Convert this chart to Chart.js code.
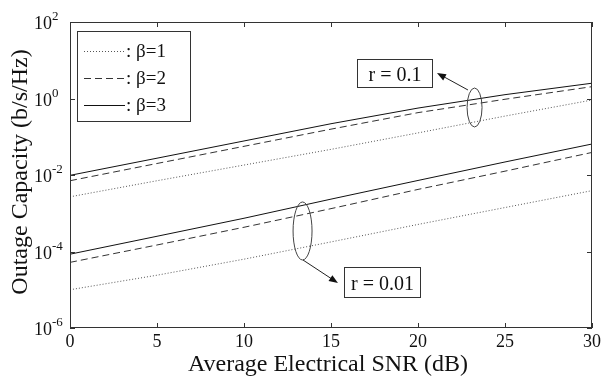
<!DOCTYPE html>
<html>
<head>
<meta charset="utf-8">
<script src="https://cdn.jsdelivr.net/npm/chart.js@4/dist/chart.umd.min.js"></script>
<style>
  html, body { margin: 0; padding: 0; background: #fff; }
  canvas { display: block; }
</style>
</head>
<body>
<canvas id="grafico" width="603" height="376"></canvas>
<script>
// SNR points (dB)
var snr = [0, 5, 10, 15, 20, 25, 30];

// outage capacity (b/s/Hz), r = 0.1
var r01_b1 = [0.00269, 0.00708, 0.0182, 0.0468, 0.126, 0.347, 0.912];
var r01_b2 = [0.00708, 0.0200, 0.0562, 0.158, 0.427, 0.955, 2.04];
var r01_b3 = [0.0098, 0.0275, 0.0776, 0.219, 0.562, 1.26, 2.51];

// outage capacity (b/s/Hz), r = 0.01
var r001_b1 = [1.0e-5, 2.4e-5, 6.3e-5, 1.78e-4, 5.1e-4, 1.41e-3, 3.9e-3];
var r001_b2 = [5.2e-5, 1.48e-4, 4.3e-4, 1.32e-3, 4.2e-3, 0.0126, 0.0389];
var r001_b3 = [8.5e-5, 2.5e-4, 7.4e-4, 2.34e-3, 7.2e-3, 0.0219, 0.0646];

var xTicks = [0, 5, 10, 15, 20, 25, 30];
var yTickExps = [2, 0, -2, -4, -6];
var legendLabels = [': \u03b2=1', ': \u03b2=2', ': \u03b2=3'];

var serif = '"Liberation Serif", "Times New Roman", serif';

var styles = [
  { borderColor: '#555', borderDash: [1, 2] },
  { borderColor: '#333', borderDash: [7, 4] },
  { borderColor: '#111', borderDash: [] }
];

function pontos(arr) {
  return snr.map(function(x, i) { return { x: x, y: arr[i] }; });
}

function ds(label, arr, st) {
  return {
    label: label,
    data: pontos(arr),
    borderColor: st.borderColor,
    borderDash: st.borderDash,
    borderWidth: 1,
    pointRadius: 0,
    tension: 0,
    fill: false
  };
}

var marcas = {
  id: 'marcas',
  beforeDraw: function(chart) {
    var c = chart.ctx;
    c.save();
    c.fillStyle = '#fff';
    c.fillRect(0, 0, chart.width, chart.height);
    c.restore();
  },
  afterDraw: function(chart) {
    var c = chart.ctx, a = chart.chartArea;
    var sx = chart.scales.x, sy = chart.scales.y;
    c.save();
    c.strokeStyle = '#333';
    c.lineWidth = 1;
    c.setLineDash([]);
    c.strokeRect(a.left + 0.5, a.top + 0.5, a.right - a.left - 1, a.bottom - a.top - 1);

    // tick marks, inward
    c.beginPath();
    xTicks.forEach(function(t) {
      var px = Math.round(sx.getPixelForValue(t)) + 0.5;
      c.moveTo(px, a.bottom); c.lineTo(px, a.bottom - 5);
      c.moveTo(px, a.top); c.lineTo(px, a.top + 5);
    });
    yTickExps.forEach(function(e) {
      var py = Math.round(sy.getPixelForValue(Math.pow(10, e))) + 0.5;
      c.moveTo(a.left, py); c.lineTo(a.left + 5, py);
      c.moveTo(a.right, py); c.lineTo(a.right - 5, py);
    });
    c.stroke();

    // tick labels
    c.fillStyle = '#111';
    c.font = '18px ' + serif;
    c.textAlign = 'center';
    c.textBaseline = 'alphabetic';
    xTicks.forEach(function(t) {
      c.fillText(String(t), sx.getPixelForValue(t), a.bottom + 19);
    });
    yTickExps.forEach(function(e) {
      var py = sy.getPixelForValue(Math.pow(10, e));
      c.font = '18px ' + serif;
      c.textAlign = 'right';
      c.fillText('10', a.left - 18, py + 7);
      c.font = '13px ' + serif;
      c.textAlign = 'left';
      c.fillText(e < 0 ? '-' + (-e) : String(e), a.left - 18, py - 2);
    });

    // axis titles
    c.font = '24px ' + serif;
    c.textAlign = 'center';
    c.fillText('Average Electrical SNR (dB)', 328, 371);
    c.save();
    c.translate(27, 172);
    c.rotate(-Math.PI / 2);
    c.fillText('Outage Capacity (b/s/Hz)', 0, 0);
    c.restore();

    // legend box
    c.strokeStyle = '#333';
    c.strokeRect(77.5, 31.5, 113, 90);
    c.font = '19px ' + serif;
    c.textAlign = 'left';
    [51, 78, 105].forEach(function(yy, i) {
      c.save();
      c.strokeStyle = styles[i].borderColor;
      c.setLineDash(styles[i].borderDash);
      c.beginPath();
      c.moveTo(84, yy + 0.5); c.lineTo(125, yy + 0.5);
      c.stroke();
      c.restore();
      c.fillText(legendLabels[i], 126, yy + 6);
    });

    // annotations: ellipse, arrow, labelled box (data coordinates)
    var notas = [
      { ell: [22.82, 23.68, 1.88, 0.18], from: [22.87, 1.67], to: [21.09, 4.64],
        box: [16.49, 20.80, 10.8, 2.0], text: 'r = 0.1' },
      { ell: [12.82, 13.91, 1.97e-3, 6.0e-5], from: [13.39, 6.0e-5], to: [15.40, 1.5e-5],
        box: [15.75, 20.11, 3.9e-5, 6.5e-6], text: 'r = 0.01' }
    ];
    notas.forEach(function(n) {
      var x0 = sx.getPixelForValue(n.ell[0]), x1 = sx.getPixelForValue(n.ell[1]);
      var y0 = sy.getPixelForValue(n.ell[2]), y1 = sy.getPixelForValue(n.ell[3]);
      c.strokeStyle = '#444';
      c.beginPath();
      c.ellipse((x0 + x1) / 2, (y0 + y1) / 2, (x1 - x0) / 2, (y1 - y0) / 2, 0, 0, Math.PI * 2);
      c.stroke();

      var fx = sx.getPixelForValue(n.from[0]), fy = sy.getPixelForValue(n.from[1]);
      var tx = sx.getPixelForValue(n.to[0]), ty = sy.getPixelForValue(n.to[1]);
      var ang = Math.atan2(ty - fy, tx - fx);
      c.strokeStyle = '#222';
      c.beginPath();
      c.moveTo(fx, fy); c.lineTo(tx - 6 * Math.cos(ang), ty - 6 * Math.sin(ang));
      c.stroke();
      c.fillStyle = '#111';
      c.beginPath();
      c.moveTo(tx, ty);
      c.lineTo(tx - 9 * Math.cos(ang) + 3.5 * Math.sin(ang), ty - 9 * Math.sin(ang) - 3.5 * Math.cos(ang));
      c.lineTo(tx - 9 * Math.cos(ang) - 3.5 * Math.sin(ang), ty - 9 * Math.sin(ang) + 3.5 * Math.cos(ang));
      c.closePath();
      c.fill();

      var bx0 = Math.round(sx.getPixelForValue(n.box[0])) + 0.5, bx1 = Math.round(sx.getPixelForValue(n.box[1])) + 0.5;
      var by0 = Math.round(sy.getPixelForValue(n.box[2])) + 0.5, by1 = Math.round(sy.getPixelForValue(n.box[3])) + 0.5;
      c.fillStyle = '#fff';
      c.fillRect(bx0, by0, bx1 - bx0, by1 - by0);
      c.strokeStyle = '#333';
      c.strokeRect(bx0, by0, bx1 - bx0, by1 - by0);
      c.fillStyle = '#111';
      c.font = '20px ' + serif;
      c.textAlign = 'center';
      c.fillText(n.text, (bx0 + bx1) / 2, (by0 + by1) / 2 + 7);
    });
    c.restore();
  }
};

new Chart(document.getElementById('grafico'), {
  type: 'line',
  data: {
    datasets: [
      ds('r=0.1, \u03b2=1', r01_b1, styles[0]),
      ds('r=0.1, \u03b2=2', r01_b2, styles[1]),
      ds('r=0.1, \u03b2=3', r01_b3, styles[2]),
      ds('r=0.01, \u03b2=1', r001_b1, styles[0]),
      ds('r=0.01, \u03b2=2', r001_b2, styles[1]),
      ds('r=0.01, \u03b2=3', r001_b3, styles[2])
    ]
  },
  options: {
    responsive: false,
    animation: false,
    devicePixelRatio: 1,
    layout: { padding: { left: 70, top: 22, right: 11, bottom: 48 } },
    scales: {
      x: { type: 'linear', min: 0, max: 30, display: false },
      y: { type: 'logarithmic', min: 1e-6, max: 1e2, display: false }
    },
    plugins: {
      legend: { display: false },
      tooltip: { enabled: false }
    }
  },
  plugins: [marcas]
});
</script>
</body>
</html>
